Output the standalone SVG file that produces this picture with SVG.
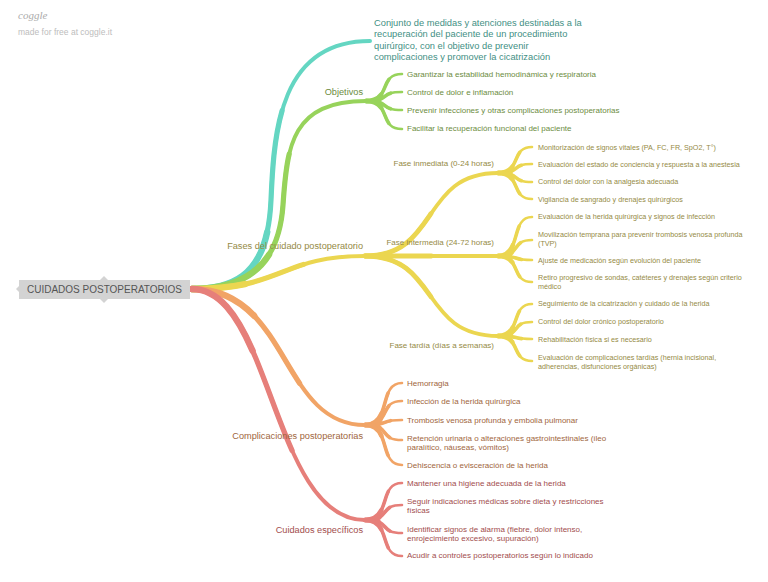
<svg xmlns="http://www.w3.org/2000/svg" width="768" height="582" viewBox="0 0 768 582">
<style>
.br{fill:none;stroke-linecap:round;stroke-linejoin:round}
.w1{stroke-width:4}
.w2{stroke-width:5.2;stroke-dasharray:65 200}
.w3{stroke-width:6.4;stroke-dasharray:30 200}
.v1{stroke-width:2.6}
.v2{stroke-width:3.6;stroke-dasharray:70 200}
.v3{stroke-width:4.6;stroke-dasharray:35 200}
.teal{stroke:#64d6c2}
.green{stroke:#97d35b}
.yellow{stroke:#ebd650}
.orange{stroke:#f1a466}
.red{stroke:#e67f7a}
text{font-family:"Liberation Sans",Arial,sans-serif}
.t-teal{fill:#3f8f84;font-size:9.3px}
.main{font-size:9.2px;text-anchor:end}
.phase{font-size:8px;text-anchor:end}
.leaf{font-size:8px}
.leaf3{font-size:7.2px}
.c-green{fill:#6c8c3e}
.c-yellow{fill:#958a45}
.c-orange{fill:#a0653d}
.c-red{fill:#a24d4d}
</style>
<defs>
<path id="p-teal" pathLength="100" d="M192,289 C245,289 268,265 271,200 C274,130 280,41 370,41"/>
<path id="p-green" pathLength="100" d="M192,289 C250,289 279,262 283,205 C287,145 292,101 366,101"/>
<path id="p-yellow" pathLength="100" d="M192,289 C285,289 280,256 365,256"/>
<path id="p-orange" pathLength="100" d="M192,289 C290,289 280,425 365,425"/>
<path id="p-red" pathLength="100" d="M192,289 C272,289 272,520 365,520"/>
<g id="f-green">
<path pathLength="100" d="M366,101 C392,101 378,74 402,74"/>
<path pathLength="100" d="M366,101 C392,101 378,92 402,92"/>
<path pathLength="100" d="M366,101 C392,101 378,110 402,110"/>
<path pathLength="100" d="M366,101 C392,101 378,129 402,129"/>
</g>
<g id="f-phase">
<path pathLength="100" d="M365,256 C440,256 420,173 498,173"/>
<path pathLength="100" d="M365,256 L498,256"/>
<path pathLength="100" d="M365,256 C440,256 420,336 498,336"/>
</g>
<g id="f-yellow">
<path pathLength="100" d="M498,173 C522,173 510,147 532,147"/>
<path pathLength="100" d="M498,173 C522,173 510,164 532,164"/>
<path pathLength="100" d="M498,173 C522,173 510,182 532,182"/>
<path pathLength="100" d="M498,173 C522,173 510,199 532,199"/>
<path pathLength="100" d="M498,256 C522,256 510,217 532,217"/>
<path pathLength="100" d="M498,256 C522,256 510,240 532,240"/>
<path pathLength="100" d="M498,256 C522,256 510,260 532,260"/>
<path pathLength="100" d="M498,256 C522,256 510,282 532,282"/>
<path pathLength="100" d="M498,336 C522,336 510,304 532,304"/>
<path pathLength="100" d="M498,336 C522,336 510,322 532,322"/>
<path pathLength="100" d="M498,336 C522,336 510,339 532,339"/>
<path pathLength="100" d="M498,336 C522,336 510,361 532,361"/>
</g>
<g id="f-orange">
<path pathLength="100" d="M365,425 C392,425 378,383 402,383"/>
<path pathLength="100" d="M365,425 C392,425 378,401 402,401"/>
<path pathLength="100" d="M365,425 C392,425 378,420 402,420"/>
<path pathLength="100" d="M365,425 C392,425 378,440 402,440"/>
<path pathLength="100" d="M365,425 C392,425 378,465 402,465"/>
</g>
<g id="f-red">
<path pathLength="100" d="M365,520 C392,520 378,483 402,483"/>
<path pathLength="100" d="M365,520 C392,520 378,505 402,505"/>
<path pathLength="100" d="M365,520 C392,520 378,533 402,533"/>
<path pathLength="100" d="M365,520 C392,520 378,556 402,556"/>
</g>
</defs>
<g id="logo">
<text x="18" y="19" style="font-family:'Liberation Serif',serif;font-style:italic;font-size:11px;fill:#ababab">coggle</text>
<text x="18" y="35" style="font-size:8.5px;fill:#bdbdbd">made for free at coggle.it</text>
</g>
<g id="connectors">
<use href="#p-teal" class="br teal w1"/><use href="#p-teal" class="br teal w2"/><use href="#p-teal" class="br teal w3"/>
<use href="#p-green" class="br green w1"/><use href="#p-green" class="br green w2"/><use href="#p-green" class="br green w3"/>
<use href="#p-yellow" class="br yellow w1"/><use href="#p-yellow" class="br yellow w2"/><use href="#p-yellow" class="br yellow w3"/>
<use href="#p-orange" class="br orange w1"/><use href="#p-orange" class="br orange w2"/><use href="#p-orange" class="br orange w3"/>
<use href="#p-red" class="br red w1"/><use href="#p-red" class="br red w2"/><use href="#p-red" class="br red w3"/>
<use href="#f-green" class="br green v1"/><use href="#f-green" class="br green v2"/><use href="#f-green" class="br green v3"/>
<use href="#f-phase" class="br yellow v2" style="stroke-width:3.8;stroke-dasharray:none"/><use href="#f-phase" class="br yellow" style="stroke-width:4.8;stroke-dasharray:50 200"/>
<use href="#f-yellow" class="br yellow v1"/><use href="#f-yellow" class="br yellow v2"/><use href="#f-yellow" class="br yellow v3"/>
<use href="#f-orange" class="br orange v1"/><use href="#f-orange" class="br orange v2"/><use href="#f-orange" class="br orange v3"/>
<use href="#f-red" class="br red v1"/><use href="#f-red" class="br red v2"/><use href="#f-red" class="br red v3"/>
</g>
<g id="root">
<rect x="19" y="280" width="171" height="19" fill="#d3d3d3"/>
<polygon points="20,285 16,289 20,293" fill="#d3d3d3"/>
<polygon points="100,280 104,276 108,280" fill="#d3d3d3"/>
<polygon points="100,299 104,303 108,299" fill="#d3d3d3"/>
<text x="104.5" y="293" text-anchor="middle" style="font-size:10px;fill:#555">CUIDADOS POSTOPERATORIOS</text>
</g>
<g id="definicion">
<text class="t-teal" x="374" y="25.5">Conjunto de medidas y atenciones destinadas a la</text>
<text class="t-teal" x="374" y="37">recuperación del paciente de un procedimiento</text>
<text class="t-teal" x="374" y="48.5">quirúrgico, con el objetivo de prevenir</text>
<text class="t-teal" x="374" y="60">complicaciones y promover la cicatrización</text>
</g>
<g id="objetivos">
<text class="main c-green" x="363" y="95">Objetivos</text>
<text class="leaf c-green" x="407" y="76.5">Garantizar la estabilidad hemodinámica y respiratoria</text>
<text class="leaf c-green" x="407" y="94.8">Control de dolor e inflamación</text>
<text class="leaf c-green" x="407" y="113">Prevenir infecciones y otras complicaciones postoperatorias</text>
<text class="leaf c-green" x="407" y="131.3">Facilitar la recuperación funcional del paciente</text>
</g>
<g id="fases">
<text class="main c-yellow" x="363" y="249.3">Fases del cuidado postoperatorio</text>
</g>
<g id="fase-inmediata">
<text class="phase c-yellow" x="494" y="166.3">Fase inmediata (0-24 horas)</text>
<text class="leaf3 c-yellow" x="538" y="149.5">Monitorización de signos vitales (PA, FC, FR, SpO2, T°)</text>
<text class="leaf3 c-yellow" x="538" y="166.8">Evaluación del estado de conciencia y respuesta a la anestesia</text>
<text class="leaf3 c-yellow" x="538" y="184.4">Control del dolor con la analgesia adecuada</text>
<text class="leaf3 c-yellow" x="538" y="201.7">Vigilancia de sangrado y drenajes quirúrgicos</text>
</g>
<g id="fase-intermedia">
<text class="phase c-yellow" x="494" y="244.7">Fase intermedia (24-72 horas)</text>
<text class="leaf3 c-yellow" x="538" y="219.4">Evaluación de la herida quirúrgica y signos de infección</text>
<text class="leaf3 c-yellow" x="538" y="236.7">Movilización temprana para prevenir trombosis venosa profunda</text>
<text class="leaf3 c-yellow" x="538" y="245.7">(TVP)</text>
<text class="leaf3 c-yellow" x="538" y="262.7">Ajuste de medicación según evolución del paciente</text>
<text class="leaf3 c-yellow" x="538" y="280.4">Retiro progresivo de sondas, catéteres y drenajes según criterio</text>
<text class="leaf3 c-yellow" x="538" y="289">médico</text>
</g>
<g id="fase-tardia">
<text class="phase c-yellow" x="494" y="348">Fase tardía (días a semanas)</text>
<text class="leaf3 c-yellow" x="538" y="306">Seguimiento de la cicatrización y cuidado de la herida</text>
<text class="leaf3 c-yellow" x="538" y="323.7">Control del dolor crónico postoperatorio</text>
<text class="leaf3 c-yellow" x="538" y="342">Rehabilitación física si es necesario</text>
<text class="leaf3 c-yellow" x="538" y="360">Evaluación de complicaciones tardías (hernia incisional,</text>
<text class="leaf3 c-yellow" x="538" y="368.7">adherencias, disfunciones orgánicas)</text>
</g>
<g id="complicaciones">
<text class="main c-orange" x="363" y="439">Complicaciones postoperatorias</text>
<text class="leaf c-orange" x="407" y="385.7">Hemorragia</text>
<text class="leaf c-orange" x="407" y="403.7">Infección de la herida quirúrgica</text>
<text class="leaf c-orange" x="407" y="423">Trombosis venosa profunda y embolia pulmonar</text>
<text class="leaf c-orange" x="407" y="440.7">Retención urinaria o alteraciones gastrointestinales (íleo</text>
<text class="leaf c-orange" x="407" y="450.3">paralítico, náuseas, vómitos)</text>
<text class="leaf c-orange" x="407" y="468">Dehiscencia o evisceración de la herida</text>
</g>
<g id="cuidados">
<text class="main c-red" x="363" y="533.3">Cuidados específicos</text>
<text class="leaf c-red" x="407" y="486.3">Mantener una higiene adecuada de la herida</text>
<text class="leaf c-red" x="407" y="504">Seguir indicaciones médicas sobre dieta y restricciones</text>
<text class="leaf c-red" x="407" y="513">físicas</text>
<text class="leaf c-red" x="407" y="532.3">Identificar signos de alarma (fiebre, dolor intenso,</text>
<text class="leaf c-red" x="407" y="541.3">enrojecimiento excesivo, supuración)</text>
<text class="leaf c-red" x="407" y="558">Acudir a controles postoperatorios según lo indicado</text>
</g>
</svg>
